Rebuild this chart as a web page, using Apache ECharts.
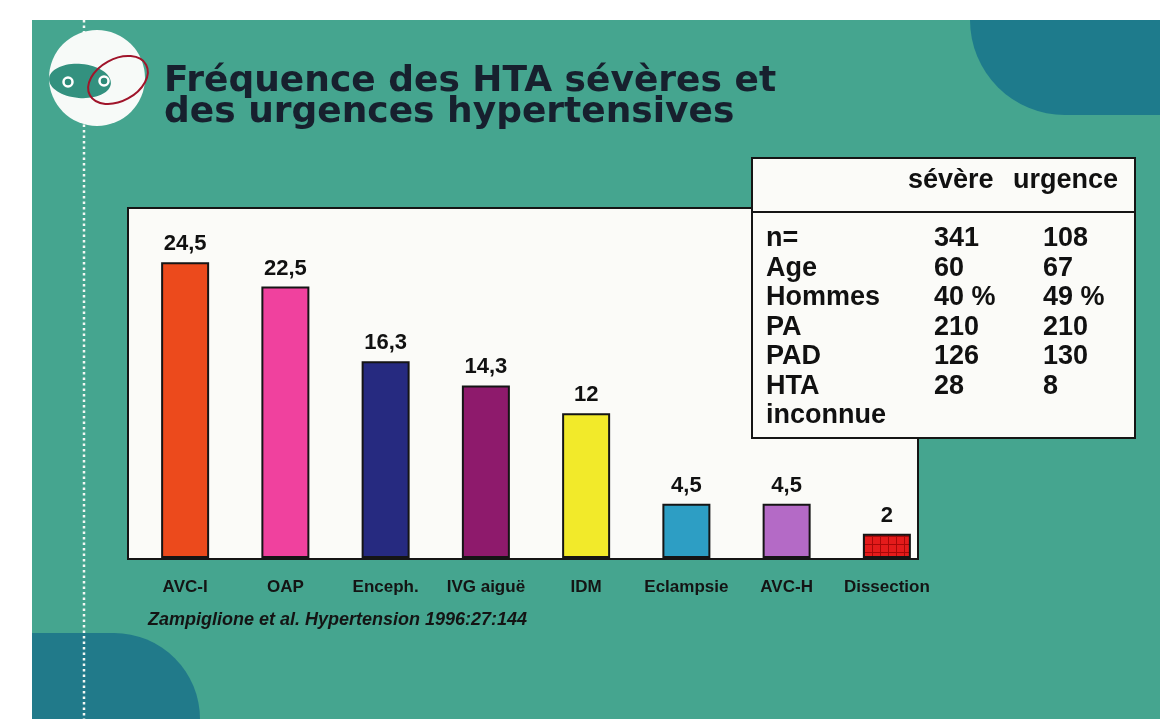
<!DOCTYPE html>
<html>
<head>
<meta charset="utf-8">
<script src="https://cdn.jsdelivr.net/npm/echarts@6/dist/echarts.min.js"></script>
<style>
  html, body { margin: 0; padding: 0; background: #fff; }
  #chart { width: 1160px; height: 719px; }
</style>
</head>
<body>
<div id="chart"></div>
<script>
// données du graphique
const categories = ['AVC-I', 'OAP', 'Enceph.', 'IVG aiguë', 'IDM', 'Eclampsie', 'AVC-H', 'Dissection']
const frequence = [24.5, 22.5, 16.3, 14.3, 12, 4.5, 4.5, 2]
const barColors = ['#ec4a1c', '#f0419e', '#262a80', '#8e1a6c', '#f2ea2a', '#2d9ec4', '#b46ac6', '#e01a1a']

// tableau sévère / urgence
const rowLabels = ['n=', 'Age', 'Hommes', 'PA', 'PAD', 'HTA', 'inconnue']
const severe = ['341', '60', '40 %', '210', '126', '28', '']
const urgence = ['108', '67', '49 %', '210', '130', '8', '']

const bold = '"Liberation Sans", Arial, sans-serif'

// petit motif quadrillé pour la barre Dissection
function checker () {
  const c = document.createElement('canvas')
  c.width = 8
  c.height = 8
  const ctx = c.getContext('2d')
  ctx.fillStyle = '#e41b1b'
  ctx.fillRect(0, 0, 8, 8)
  ctx.fillStyle = '#a80808'
  ctx.fillRect(0, 0, 8, 1)
  ctx.fillRect(0, 0, 1, 8)
  return c
}

const chart = echarts.init(document.getElementById('chart'))

const tableEls = []
rowLabels.forEach((lab, i) => {
  const y = 239 + i * 29.5
  const st = { fontSize: 27, fontWeight: 'bold', fontFamily: bold, fill: '#111', verticalAlign: 'middle' }
  tableEls.push({ type: 'text', x: 766, y, z: 11, style: Object.assign({ text: lab }, st) })
  if (severe[i]) tableEls.push({ type: 'text', x: 934, y, z: 11, style: Object.assign({ text: severe[i] }, st) })
  if (urgence[i]) tableEls.push({ type: 'text', x: 1043, y, z: 11, style: Object.assign({ text: urgence[i] }, st) })
})

const option = {
  backgroundColor: '#ffffff',
  animation: false,
  title: {
    text: 'Fréquence des HTA sévères et\ndes urgences hypertensives',
    left: 159,
    top: 61,
    textStyle: {
      color: '#17202e',
      fontSize: 36,
      fontWeight: 'bold',
      fontFamily: '"DejaVu Sans", sans-serif',
      lineHeight: 31
    }
  },
  graphic: [
    // fond de la diapo
    { type: 'rect', z: 0, shape: { x: 32, y: 20, width: 1128, height: 699 }, style: { fill: '#45a58f' } },
    { type: 'rect', z: 0, shape: { x: 970, y: 20, width: 190, height: 95, r: [0, 0, 0, 95] }, style: { fill: '#1e7b8c' } },
    { type: 'rect', z: 0, shape: { x: 32, y: 633, width: 168, height: 86, r: [0, 86, 0, 0] }, style: { fill: '#217a8a' } },
    { type: 'line', z: 0, shape: { x1: 84, y1: 20, x2: 84, y2: 719 }, style: { stroke: '#f4f8f4', lineWidth: 2.5, lineDash: [2.5, 3] } },
    // logo
    { type: 'circle', z: 1, shape: { cx: 97, cy: 78, r: 48 }, style: { fill: '#f7faf8' } },
    { type: 'ellipse', z: 1, shape: { cx: 80, cy: 81, rx: 31, ry: 17 }, rotation: -0.08, originX: 80, originY: 81, style: { fill: '#33917f' } },
    { type: 'circle', z: 1, shape: { cx: 68, cy: 82, r: 4.5 }, style: { fill: '#2d8a78', stroke: '#ffffff', lineWidth: 2.5 } },
    { type: 'circle', z: 1, shape: { cx: 104, cy: 81, r: 4.5 }, style: { fill: '#2d8a78', stroke: '#ffffff', lineWidth: 2.5 } },
    { type: 'ellipse', z: 1, shape: { cx: 118, cy: 80, rx: 32, ry: 21 }, rotation: 0.5, originX: 118, originY: 80, style: { fill: null, stroke: '#a0142a', lineWidth: 2 } },
    // panneau blanc du graphique
    { type: 'rect', z: 1, shape: { x: 128, y: 208, width: 790, height: 351 }, style: { fill: '#fbfbf8', stroke: '#151515', lineWidth: 2 } },
    // tableau
    { type: 'rect', z: 10, shape: { x: 752, y: 158, width: 383, height: 280 }, style: { fill: '#fbfbf8', stroke: '#151515', lineWidth: 2 } },
    { type: 'line', z: 10, shape: { x1: 752, y1: 212, x2: 1135, y2: 212 }, style: { stroke: '#151515', lineWidth: 2 } },
    { type: 'text', x: 908, y: 181, z: 11, style: { text: 'sévère', fontSize: 27, fontWeight: 'bold', fontFamily: bold, fill: '#111', verticalAlign: 'middle' } },
    { type: 'text', x: 1013, y: 181, z: 11, style: { text: 'urgence', fontSize: 27, fontWeight: 'bold', fontFamily: bold, fill: '#111', verticalAlign: 'middle' } },
    ...tableEls,
    // référence
    { type: 'text', x: 148, y: 620, z: 11, style: { text: 'Zampiglione et al. Hypertension 1996:27:144', fontSize: 18, fontWeight: 'bold', fontStyle: 'italic', fontFamily: bold, fill: '#141414', verticalAlign: 'middle' } }
  ],
  grid: {
    left: 135,
    right: 223,
    top: 208,
    bottom: 161
  },
  xAxis: {
    type: 'category',
    data: categories,
    axisLine: { show: false },
    axisTick: { show: false },
    axisLabel: {
      interval: 0,
      margin: 21,
      color: '#141414',
      fontSize: 17,
      fontWeight: 'bold',
      fontFamily: bold
    }
  },
  yAxis: {
    type: 'value',
    min: 0,
    max: 29,
    show: false,
    splitLine: { show: false }
  },
  series: [
    {
      type: 'bar',
      barWidth: 48,
      z: 3,
      data: frequence.map((v, i) => ({
        value: v,
        itemStyle: {
          color: i === 7 ? { image: checker(), repeat: 'repeat' } : barColors[i]
        }
      })),
      itemStyle: {
        borderColor: '#151515',
        borderWidth: 2
      },
      label: {
        show: true,
        position: 'top',
        distance: 7,
        color: '#111',
        fontSize: 22,
        fontWeight: 'bold',
        fontFamily: bold,
        formatter: p => String(p.value).replace('.', ',')
      }
    }
  ]
}

chart.setOption(option)
</script>
</body>
</html>
